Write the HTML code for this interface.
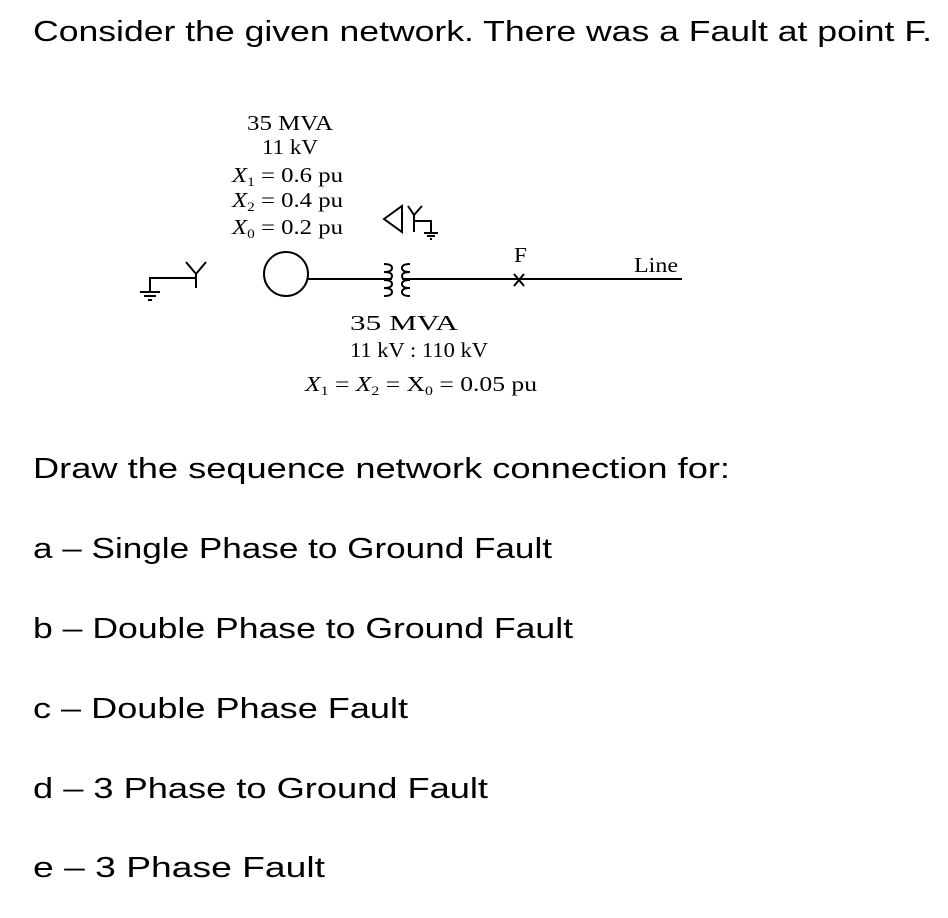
<!DOCTYPE html>
<html><head><meta charset="utf-8"><style>
html,body{margin:0;padding:0;background:#fff;}
svg{display:block;}
.t{font-family:"Liberation Sans",sans-serif;font-size:29px;fill:#000;}
.s{font-family:"Liberation Serif",serif;font-size:21px;fill:#000;}
</style></head><body>
<svg width="948" height="918" viewBox="0 0 948 918" xmlns="http://www.w3.org/2000/svg">
<text class="t" x="33" y="41" textLength="899" lengthAdjust="spacingAndGlyphs">Consider the given network. There was a Fault at point F.</text>
<text class="s" x="247" y="130" textLength="86" lengthAdjust="spacingAndGlyphs">35 MVA</text>
<text class="s" x="262" y="154" textLength="56" lengthAdjust="spacingAndGlyphs">11 kV</text>
<text class="s" x="232" y="182" textLength="111" lengthAdjust="spacingAndGlyphs"><tspan font-style="italic">X</tspan><tspan font-size="13" dy="4">1</tspan><tspan dy="-4"> = 0.6 pu</tspan></text>
<text class="s" x="232" y="207" textLength="111" lengthAdjust="spacingAndGlyphs"><tspan font-style="italic">X</tspan><tspan font-size="13" dy="4">2</tspan><tspan dy="-4"> = 0.4 pu</tspan></text>
<text class="s" x="232" y="234" textLength="111" lengthAdjust="spacingAndGlyphs"><tspan font-style="italic">X</tspan><tspan font-size="13" dy="4">0</tspan><tspan dy="-4"> = 0.2 pu</tspan></text>
<g stroke="#000" stroke-width="2" fill="none">
<!-- left Y ground -->
<path d="M186 262 L196 274 L206 262 M196 274 L196 288 M196 278 L150 278 L150 292"/>
<path d="M140 292 L160 292 M144 296 L156 296 M148 300 L152 300"/>
<!-- generator -->
<circle cx="286" cy="274" r="22"/>
<!-- line -->
<path d="M308 279 L392 279 M402 279 L682 279"/>
<!-- transformer coils -->
<path d="M384 264 Q392 264 392 268 Q392 272 384 272 M384 272 Q392 272 392 276 Q392 280 384 280 M384 280 Q392 280 392 284 Q392 288 384 288 M384 288 Q392 288 392 292 Q392 296 384 296"/>
<path d="M410 264 Q402 264 402 268 Q402 272 410 272 M410 272 Q402 272 402 276 Q402 280 410 280 M410 280 Q402 280 402 284 Q402 288 410 288 M410 288 Q402 288 402 292 Q402 296 410 296"/>
<!-- delta -->
<path d="M384 219 L402 206 L402 232 Z"/>
<!-- Y grounded -->
<path d="M408 206 L414 215 L422 206 M414 215 L414 232 M414 221 L431 221 L431 233"/>
<path d="M424 233 L438 233 M427 236 L435 236 M430 239 L432 239"/>
<!-- fault x -->
<path d="M514 274 L524 286 M524 274 L514 286"/>
</g>
<text class="s" x="514" y="262" textLength="13" lengthAdjust="spacingAndGlyphs">F</text>
<text class="s" x="634" y="272" textLength="44" lengthAdjust="spacingAndGlyphs">Line</text>
<text class="s" x="350" y="330" textLength="108" lengthAdjust="spacingAndGlyphs">35 MVA</text>
<text class="s" x="350" y="357" textLength="138" lengthAdjust="spacingAndGlyphs">11 kV : 110 kV</text>
<text class="s" x="305" y="391" textLength="232" lengthAdjust="spacingAndGlyphs"><tspan font-style="italic">X</tspan><tspan font-size="13" dy="4">1</tspan><tspan dy="-4"> = </tspan><tspan font-style="italic">X</tspan><tspan font-size="13" dy="4">2</tspan><tspan dy="-4"> = X</tspan><tspan font-size="13" dy="4">0</tspan><tspan dy="-4"> = 0.05 pu</tspan></text>
<text class="t" x="33" y="478" textLength="697" lengthAdjust="spacingAndGlyphs">Draw the sequence network connection for:</text>
<text class="t" x="33" y="558" textLength="519" lengthAdjust="spacingAndGlyphs">a –  Single Phase to Ground Fault</text>
<text class="t" x="33" y="638" textLength="540" lengthAdjust="spacingAndGlyphs">b –  Double Phase to Ground Fault</text>
<text class="t" x="33" y="718" textLength="375" lengthAdjust="spacingAndGlyphs">c –  Double Phase  Fault</text>
<text class="t" x="33" y="798" textLength="455" lengthAdjust="spacingAndGlyphs">d –  3  Phase to Ground Fault</text>
<text class="t" x="33" y="877" textLength="292" lengthAdjust="spacingAndGlyphs">e –  3  Phase  Fault</text>
</svg>
</body></html>
